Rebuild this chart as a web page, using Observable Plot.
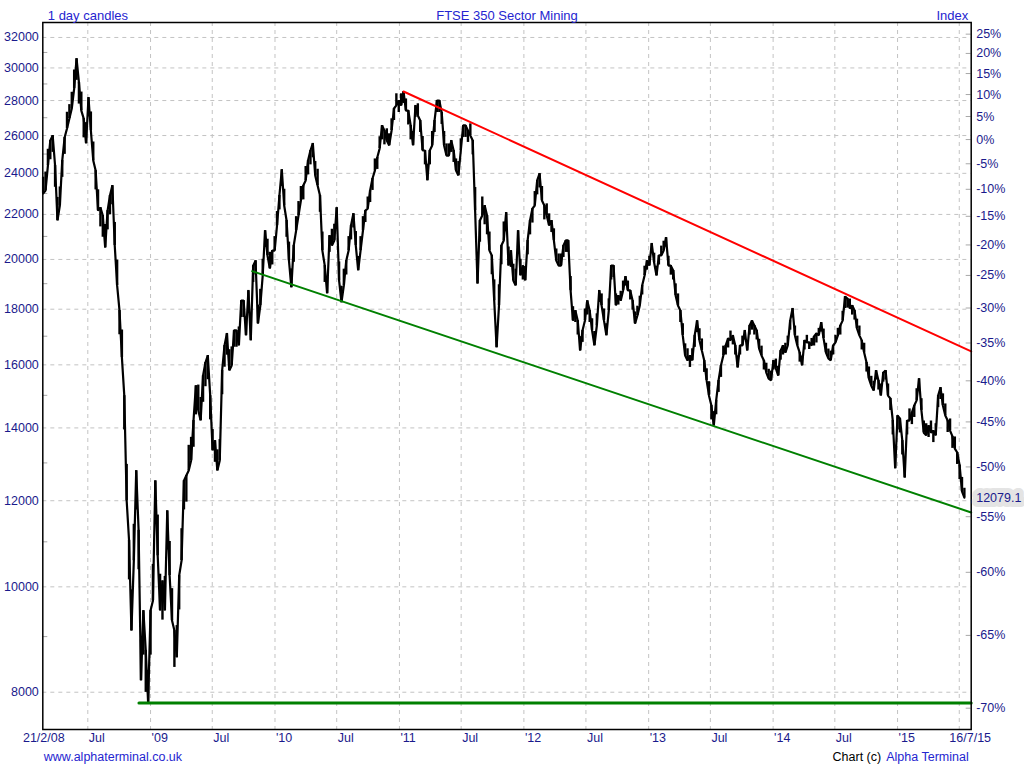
<!DOCTYPE html>
<html><head><meta charset="utf-8">
<script src="https://cdn.jsdelivr.net/npm/d3@7"></script>
<script src="https://cdn.jsdelivr.net/npm/@observablehq/plot@0.6"></script>
<style>
html,body{margin:0;padding:0;background:#fff;}
#chart svg{display:block;}
</style></head><body>
<div id="chart"></div>
<script>
// ---- texts ----
const title = "FTSE 350 Sector Mining";
const headerLeft = "1 day candles";
const headerRight = "Index";
const footerLeft = "www.alphaterminal.co.uk";
const footerRightA = "Chart (c)";
const footerRightB = "Alpha Terminal";
const firstLabel = "21/2/08";
const lastLabel = "16/7/15";

// ---- series: weekly readings of the index, first week 21/2/08, last 16/7/15 ----
const firstDate = "2008-02-21";
const weeklyCloses = [
  23000, 23140, 24400, 25730, 26000, 24400, 21720, 22420, 24660, 25890,
  26390, 26950, 27530, 28720, 30600, 29100, 27410, 26950, 25570, 28180,
  26280, 24660, 24140, 22180, 22320, 21950, 20510, 22180, 22900, 23390,
  20600, 18930, 17950, 16250, 14990, 12000, 11030, 9115, 10570, 12790,
  11270, 8200, 9510, 8740, 7830, 9510, 9710, 12520, 10680, 9510,
  10130, 9510, 11750, 10240, 9310, 9115, 8610, 10240, 10570, 12520,
  12660, 12790, 13070, 14220, 15310, 14530, 14220, 15640, 16080, 16320,
  14990, 13350, 13630, 12790, 13070, 15810, 16670, 17100, 15810, 15980,
  17210, 17210, 16670, 18330, 18330, 17030, 18730, 16850, 19740, 19950,
  17460, 18140, 19330, 21260, 20170, 19620, 20380, 20380, 21490, 22900,
  24190, 22420, 21720, 19950, 18850, 20600, 21260, 21950, 22660, 23390,
  23640, 24660, 25190, 25570, 23890, 23390, 22900, 20380, 19740, 18610,
  21040, 20600, 20820, 22320, 19130, 18260, 18930, 19950, 20380, 21490,
  22040, 20600, 19540, 20380, 21260, 22180, 22270, 23140, 23740, 24140,
  24820, 25300, 26560, 26280, 25730, 25460, 26280, 27530, 27710, 28000,
  27710, 28540, 27410, 27410, 26560, 25460, 27710, 27130, 26840, 25190,
  25190, 23640, 25190, 25460, 26840, 28000, 28000, 27300, 25460, 24920,
  24920, 25730, 25190, 24140, 23890, 25190, 26560, 26560, 26280, 26000,
  25730, 22180, 19000, 21720, 21950, 22420, 21950, 20380, 20170, 18330,
  16600, 18140, 20600, 20820, 22090, 19740, 20380, 19130, 18930, 21260,
  19330, 19740, 19130, 20820, 21720, 22270, 22420, 23640, 23990, 22660,
  22420, 21950, 21490, 21720, 20820, 19950, 19740, 19740, 20600, 20820,
  20820, 18730, 17570, 17950, 17570, 16490, 17210, 17570, 18330, 17950,
  17210, 16670, 17390, 18730, 18140, 17570, 17030, 17950, 19740, 19740,
  18140, 18530, 18330, 18730, 19290, 18730, 18730, 18330, 17460, 17760,
  18140, 18930, 19330, 19950, 19740, 20690, 19870, 19330, 20170, 20170,
  20380, 20950, 19740, 19740, 19540, 18530, 18140, 17950, 17030, 16320,
  16150, 16320, 16150, 17030, 17570, 16850, 16490, 16150, 15480, 14990,
  14680, 14070, 14840, 15480, 15980, 16320, 16670, 16920, 16850, 17030,
  16670, 15910, 16670, 16670, 17210, 16490, 17390, 17570, 17390, 17210,
  16560, 16320, 16150, 15740, 15540, 15480, 16150, 15880, 15640, 16490,
  16670, 16420, 16670, 17570, 18030, 17030, 16670, 16420, 15980, 16850,
  16780, 16780, 16670, 16990, 17100, 17030, 17500, 16920, 16420, 16220,
  16150, 16670, 16780, 17030, 17390, 17570, 18490, 18410, 18030, 18140,
  17950, 17280, 17030, 16850, 16420, 16080, 15540, 15310, 15150, 15810,
  15480, 14990, 15740, 15810, 14990, 14900, 14220, 12850, 14370, 14280,
  13630, 12600, 14220, 14220, 14460, 14680, 14840, 15540, 14530, 13860,
  13780, 14070, 13860, 13920, 13780, 14990, 15250, 14680, 14370, 14220,
  13920, 13750, 13400, 13290, 12940, 12240, 12079.1
];
// weekly high-low range of the candles, in % of the level
const weeklyRangePct = [
  3.5, 4, 3.5, 4, 3.5, 4.5, 5, 4, 3.5, 3.5,
  3.5, 3, 3.5, 4, 4.5, 4.5, 4, 4, 4.5, 4,
  4, 4, 4, 4.5, 4, 4.5, 5, 4, 4, 4,
  5, 5.5, 5, 6, 7, 8, 8, 9, 8, 8,
  8, 9, 9, 8.5, 7, 9, 8, 8.5, 9, 8,
  8, 7.5, 8, 7.5, 7, 7.5, 7, 7, 7, 6,
  5.5, 5.5, 5, 5.5, 6, 5.5, 5, 5.5, 5, 5,
  5, 4.5, 4.5, 4.5, 4.5, 5, 4.5, 4.5, 4.5, 4,
  3.5, 3.5, 4, 3.5, 3.5, 4, 3.5, 4, 3.5, 3,
  4, 3.5, 3.5, 3.5, 3.5, 3.5, 3, 3, 3, 3,
  3.5, 3.5, 3.5, 4, 4, 3.5, 3, 3, 3, 3,
  3, 3, 3, 3, 3, 3.5, 3.5, 4, 3.5, 3.5,
  3.5, 3.5, 3.5, 3.5, 4, 3.5, 3.5, 3, 3, 3,
  3, 3, 3, 3, 3, 2.5, 2.5, 2.5, 2.5, 2.5,
  2.5, 2.5, 3, 3, 2.5, 2.5, 2.5, 2.5, 2.5, 2.5,
  2.5, 2.5, 2.5, 3, 3, 3, 2.5, 2.5, 2.5, 3,
  3, 3.5, 3, 3, 2.5, 2.5, 2.5, 2.5, 3, 2.5,
  2.5, 2.5, 2.5, 2.5, 3, 2.5, 2.5, 2.5, 2.5, 2.5,
  3, 5, 5, 4.5, 4, 4, 4, 4, 4, 4.5,
  4.5, 4.5, 4, 4, 4, 4, 3.5, 3.5, 3.5, 3.5,
  3.5, 3, 3, 3, 3, 3, 3, 3, 3, 3,
  3, 2.5, 2.5, 2.5, 2.5, 2.5, 2.5, 2.5, 2.5, 2.5,
  2.5, 3, 3, 2.5, 3, 3, 2.5, 2.5, 3, 2.5,
  2.5, 3, 2.5, 2.5, 2.5, 2.5, 2.5, 2.5, 3, 2.5,
  2.5, 2, 2, 2, 2, 2, 2, 2, 2.5, 2,
  2, 2, 2, 2, 2, 2, 2, 2, 2, 2,
  2, 2, 2, 2, 2, 2.5, 2.5, 2.5, 2.5, 2.5,
  2.5, 2.5, 2.5, 2.5, 2.5, 2.5, 2.5, 2.5, 2.5, 3,
  3, 3, 3, 2.5, 2.5, 2, 2, 2, 2, 2,
  2, 2.5, 2, 2, 2, 2, 2, 2, 2, 2,
  2, 2, 2, 2, 2, 2, 2, 2, 2, 2,
  2, 2, 2, 2, 2, 2, 2, 2, 2, 2,
  1.5, 1.5, 1.5, 2, 2, 1.5, 2, 2, 2, 2,
  2, 2, 1.5, 1.5, 2, 2, 2.5, 2, 2, 2,
  2, 2, 2, 2, 2, 2, 2.5, 2, 2, 2,
  2, 2.5, 2, 2, 2.5, 2.5, 3, 3.5, 3, 3,
  3, 3.5, 3, 2.5, 2.5, 2.5, 2.5, 2.5, 2.5, 2.5,
  2.5, 2.5, 2.5, 2.5, 2.5, 2.5, 2.5, 2.5, 2.5, 2.5,
  2.5, 2.5, 2.5, 2.5, 3, 3, 2
];

// ---- trend lines ----
const resistanceDates = ["2011-01-13", "2015-08-05"];
const resistanceValues = [28540, 16460];
const supportTrendDates = ["2009-10-26", "2015-08-05"];
const supportTrendValues = [19510, 11705];
const floorDates = ["2008-11-28", "2015-08-05"];
const floorValues = [7820, 7820];

// ---- axes ----
const yTicks = [8000, 10000, 12000, 14000, 16000, 18000, 20000, 22000, 24000, 26000, 28000, 30000, 32000];
const yMinorTicks = [9000, 11000, 13000, 15000, 17000, 19000, 21000, 23000, 25000, 27000, 29000, 31000];
const pctTicks = [25, 20, 15, 10, 5, 0, -5, -10, -15, -20, -25, -30, -35, -40, -45, -50, -55, -60, -65, -70];
const pctBase = 25780;
const xTickDates = ["2008-07-01","2009-01-01","2009-07-01","2010-01-01","2010-07-01","2011-01-01","2011-07-01",
  "2012-01-01","2012-07-01","2013-01-01","2013-07-01","2014-01-01","2014-07-01","2015-01-01","2015-07-01"];
const xTickLabels = ["Jul","'09","Jul","'10","Jul","'11","Jul","'12","Jul","'13","Jul","'14","Jul","'15",""];
const xDomain = ["2008-02-20", "2015-08-05"];
const yDomain = [7393, 33030];

// ---- build ----
const t0 = new Date(firstDate);
const n = weeklyCloses.length;
const series = weeklyCloses.map((v, i) => {
  const prev = weeklyCloses[Math.max(0, i - 1)], next = weeklyCloses[Math.min(n - 1, i + 1)];
  const dir = v >= (prev + next) / 2 ? -1 : 1;           // candle range extends away from the local extreme
  const other = v * (1 + dir * weeklyRangePct[i] / 100);
  return {date: d3.utcDay.offset(t0, 7 * i), value: v, lo: Math.min(v, other), hi: Math.max(v, other)};
});
const toRows = (ds, vs) => ds.map((d, i) => ({date: new Date(d), value: vs[i]}));

const W = 1024, H = 768, mL = 42.3, mR = 53.3, mT = 22, mB = 39;
const frameW = W - mL - mR;
const navy = "#1a1a8c", blue = "#2525d0", grid = "#c3c3c3", tickGray = "#a8a8a8";
const lastValue = weeklyCloses[n - 1];

const chart = Plot.plot({
  width: W, height: H,
  marginLeft: mL, marginRight: mR, marginTop: mT, marginBottom: mB,
  style: {fontFamily: "'Liberation Sans', Arial, sans-serif", fontSize: "12.5px", background: "white"},
  x: {type: "utc", domain: xDomain.map(d => new Date(d)), axis: null},
  y: {type: "log", domain: yDomain, axis: null},
  marks: [
    Plot.ruleY(yTicks, {stroke: grid, strokeDasharray: "4,4"}),
    Plot.ruleX(xTickDates.map(d => new Date(d)), {stroke: grid, strokeDasharray: "4,4"}),
    Plot.tickY(yMinorTicks, {stroke: tickGray, insetRight: frameW - 5}),
    Plot.tickY(pctTicks.map(p => pctBase * (1 + p / 100)), {stroke: tickGray, insetLeft: frameW - 5}),
    Plot.ruleX(series, {x: "date", y1: "lo", y2: "hi", stroke: "black", strokeWidth: 2.4}),
    Plot.line(series, {x: "date", y: "value", stroke: "black", strokeWidth: 2.2, strokeLinejoin: "miter"}),
    Plot.line(toRows(floorDates, floorValues), {x: "date", y: "value", stroke: "#008000", strokeWidth: 3}),
    Plot.line(toRows(supportTrendDates, supportTrendValues), {x: "date", y: "value", stroke: "#008000", strokeWidth: 2}),
    Plot.line(toRows(resistanceDates, resistanceValues), {x: "date", y: "value", stroke: "#ff0000", strokeWidth: 2}),
    Plot.frame({stroke: "black", strokeWidth: 1.5}),
    // left axis labels
    Plot.text(yTicks, {y: d => d, text: d => String(d), frameAnchor: "left", textAnchor: "end", dx: -4, fill: navy}),
    // last value tag and right percent labels
    Plot.text([lastValue], {y: d => d, text: d => d.toFixed(1), frameAnchor: "right", textAnchor: "start", dx: 5,
      fill: navy, stroke: "#e4e4e4", strokeWidth: 10}),
    Plot.text(pctTicks, {y: p => pctBase * (1 + p / 100), text: p => p + "%", frameAnchor: "right", textAnchor: "start", dx: 5, fill: navy}),
    // bottom labels
    Plot.text(xTickDates, {x: d => new Date(d), text: (d, i) => xTickLabels[i], frameAnchor: "bottom", textAnchor: "start", dx: 1, dy: 12, fill: navy}),
    Plot.text([firstLabel], {frameAnchor: "bottom-left", textAnchor: "middle", dx: 1, dy: 12, fill: navy}),
    Plot.text([lastLabel], {frameAnchor: "bottom-right", textAnchor: "middle", dx: -1, dy: 12, fill: navy}),
    // header
    Plot.text([title], {frameAnchor: "top", dy: -12, fill: blue, fontSize: 13}),
    Plot.text([headerLeft], {frameAnchor: "top-left", textAnchor: "start", dx: 5, dy: -12, fill: blue, fontSize: 13}),
    Plot.text([headerRight], {frameAnchor: "top-right", textAnchor: "end", dx: -3, dy: -12, fill: blue, fontSize: 13}),
    // footer
    Plot.text([footerLeft], {frameAnchor: "bottom-left", textAnchor: "start", dx: 1, dy: 31, fill: blue}),
    Plot.text([footerRightB], {frameAnchor: "bottom-right", textAnchor: "end", dx: -2.5, dy: 31, fill: blue}),
    Plot.text([footerRightA], {frameAnchor: "bottom-right", textAnchor: "end", dx: -90, dy: 31, fill: "black"})
  ]
});
document.getElementById("chart").appendChild(chart);
</script>
</body></html>
